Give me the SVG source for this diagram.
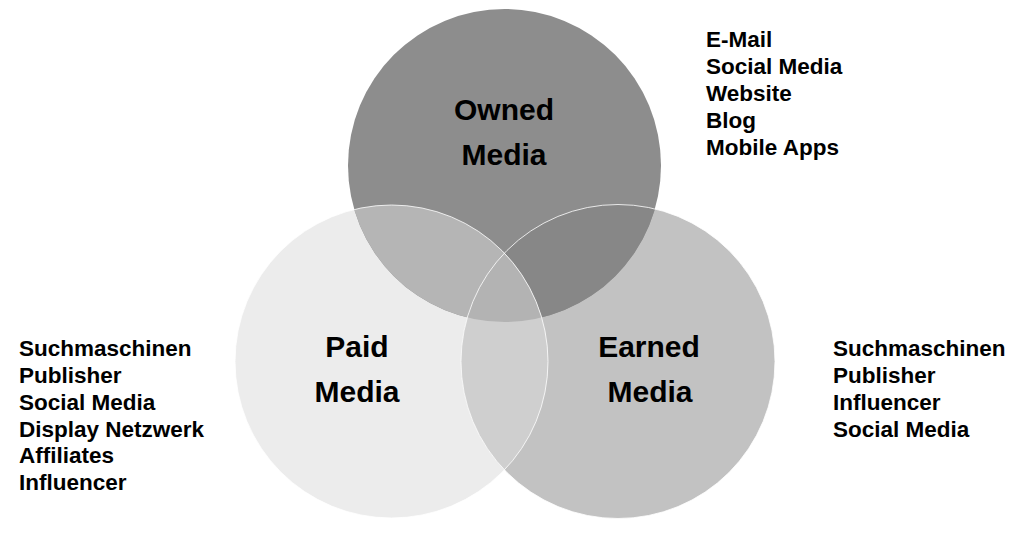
<svg xmlns="http://www.w3.org/2000/svg" width="1024" height="536" viewBox="0 0 1024 536">
<style>
.lbl{font-family:"Liberation Sans",Arial,sans-serif;font-weight:bold;font-size:30px;fill:#000;text-anchor:middle}
.lst{font-family:"Liberation Sans",Arial,sans-serif;font-weight:bold;font-size:22.5px;fill:#000}
.edge{fill:none;stroke:#ffffff;stroke-width:1;stroke-opacity:0.8}
</style>
<defs>
<clipPath id="cOwned"><circle cx="504.5" cy="165.5" r="156.5"/></clipPath>
<clipPath id="cPaid"><circle cx="391.5" cy="361.5" r="156.5"/></clipPath>
<clipPath id="cEarned"><circle cx="618" cy="361.5" r="157"/></clipPath>
</defs>
<rect width="1024" height="536" fill="#ffffff"/>
<g id="paid">
<circle cx="391.5" cy="361.5" r="156.5" fill="#ececec"/>
</g>
<g id="earned">
<circle cx="618" cy="361.5" r="157" fill="#c2c2c2"/>
</g>
<g id="owned">
<circle cx="504.5" cy="165.5" r="156.5" fill="#8d8d8d"/>
</g>
<g id="overlaps">
<g clip-path="url(#cOwned)"><circle cx="391.5" cy="361.5" r="156.5" fill="#b5b5b5"/></g>
<g clip-path="url(#cOwned)"><circle cx="618" cy="361.5" r="157" fill="#878787"/></g>
<g clip-path="url(#cEarned)"><circle cx="391.5" cy="361.5" r="156.5" fill="#cfcfcf"/></g>
<g clip-path="url(#cOwned)"><g clip-path="url(#cEarned)"><circle cx="391.5" cy="361.5" r="156.5" fill="#b3b3b3"/></g></g>
<circle class="edge" cx="391.5" cy="361.5" r="156.5"/>
<circle class="edge" cx="618" cy="361.5" r="157"/>
</g>
<g id="owned-label">
<text class="lbl" x="504" y="120">Owned</text>
<text class="lbl" x="504" y="165">Media</text>
</g>
<g id="paid-label">
<text class="lbl" x="357" y="357">Paid</text>
<text class="lbl" x="357" y="402">Media</text>
</g>
<g id="earned-label">
<text class="lbl" x="649" y="357">Earned</text>
<text class="lbl" x="650" y="402">Media</text>
</g>
<g id="owned-list">
<text class="lst" x="706" y="47">E-Mail</text>
<text class="lst" x="706" y="74">Social Media</text>
<text class="lst" x="706" y="101">Website</text>
<text class="lst" x="706" y="128">Blog</text>
<text class="lst" x="706" y="155">Mobile Apps</text>
</g>
<g id="paid-list">
<text class="lst" x="19" y="356">Suchmaschinen</text>
<text class="lst" x="19" y="383">Publisher</text>
<text class="lst" x="19" y="410">Social Media</text>
<text class="lst" x="19" y="437">Display Netzwerk</text>
<text class="lst" x="19" y="463">Affiliates</text>
<text class="lst" x="19" y="490">Influencer</text>
</g>
<g id="earned-list">
<text class="lst" x="833" y="356">Suchmaschinen</text>
<text class="lst" x="833" y="383">Publisher</text>
<text class="lst" x="833" y="410">Influencer</text>
<text class="lst" x="833" y="437">Social Media</text>
</g>
</svg>
